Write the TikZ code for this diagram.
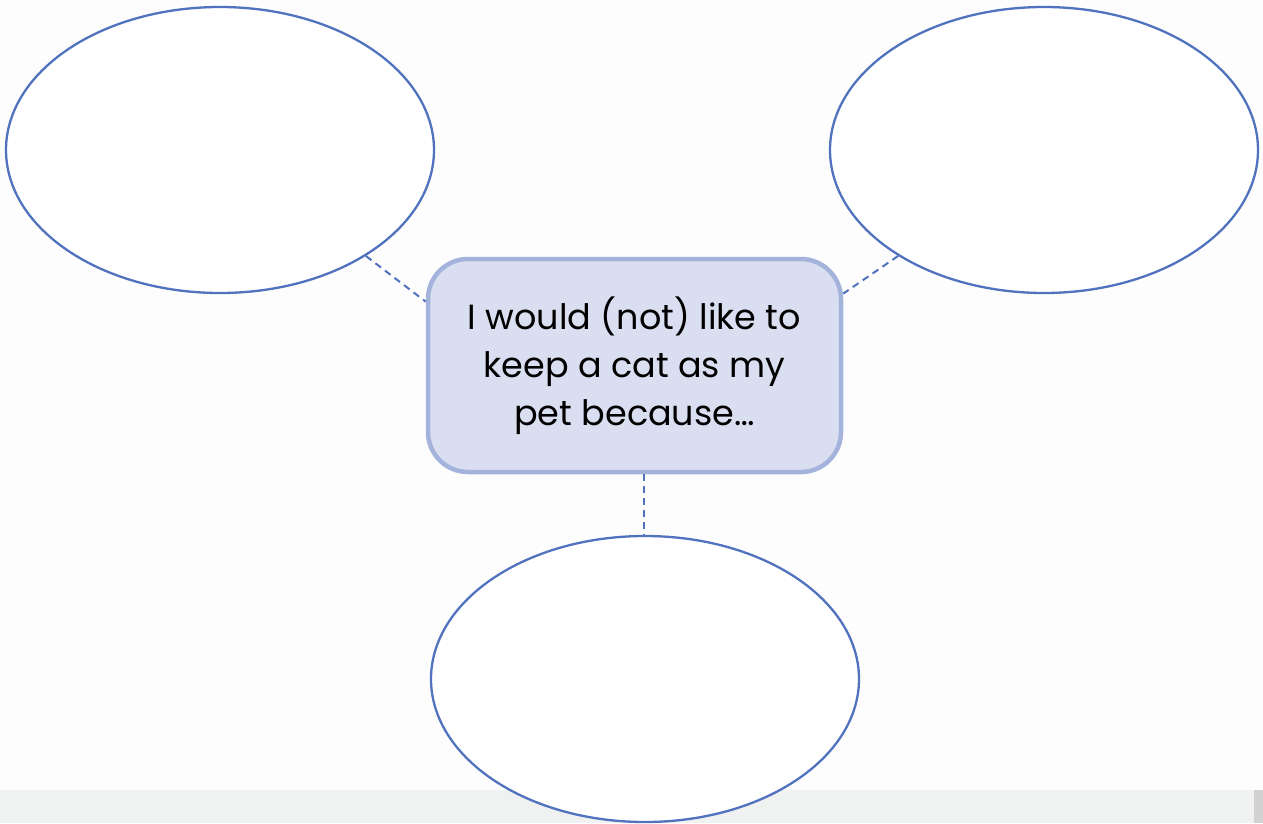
\documentclass[tikz,border=0pt]{standalone}
\usepackage{fontspec}
\setmainfont{Poppins}
\usetikzlibrary{shapes.geometric}
\definecolor{bgc}{HTML}{FDFDFD}
\definecolor{stripc}{HTML}{F0F1F1}
\definecolor{ellc}{HTML}{5172BE}
\definecolor{boxedge}{HTML}{A4B3DC}
\definecolor{boxfill}{HTML}{D9DEF0}
\begin{document}
\begin{tikzpicture}[x=1pt,y=-1pt,
  bubble/.style={ellipse,draw=ellc,line width=2.3pt,fill=white,minimum width=428pt,minimum height=286pt,inner sep=0pt},
  centerbox/.style={rounded corners=40pt,draw=boxedge,line width=4.5pt,fill=boxfill,minimum width=413pt,minimum height=213pt,inner sep=0pt,align=center,font=\fontsize{35}{48}\selectfont},
  link/.style={draw=ellc,line width=2pt,dash pattern=on 7pt off 5pt}]
\fill[bgc] (0,0) rectangle (1263,823);
\fill[stripc] (0,790) rectangle (1263,823);
\fill[gray!35] (1254,790) rectangle (1263,823);
\useasboundingbox (0,0) rectangle (1263,823);
\node[bubble] (left) at (220,150) {};
\node[bubble] (right) at (1044,150) {};
\node[bubble] (bottom) at (645,679) {};
\node[centerbox] (center) at (634.5,365.5) {I would (not) like to\\keep a cat as my\\pet because\dots};
\draw[link] (left.-36.5) -- (center.163);
\draw[link] (right.-144) -- (center.19);
\draw[link] (center.south -| 644,0) -- (bottom.north -| 644,0);
\end{tikzpicture}
\end{document}
